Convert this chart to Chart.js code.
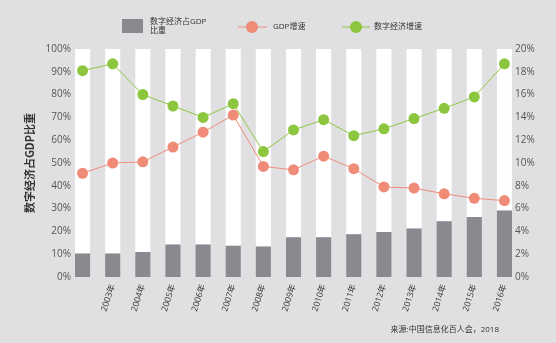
<!DOCTYPE html>
<html><head><meta charset="utf-8">
<script src="https://cdn.jsdelivr.net/npm/chart.js@4/dist/chart.umd.min.js"></script>
<style>
html,body{margin:0;padding:0;background:#e0e0e2;}
#wrap{width:556px;height:343px;position:relative;}
</style></head>
<body><div id="wrap"><canvas id="c" width="556" height="343"></canvas></div>
<script>
const categories = ['', '2003年', '2004年', '2005年', '2006年', '2007年', '2008年', '2009年', '2010年', '2011年', '2012年', '2013年', '2014年', '2015年', '2016年'];
const digitalShare = [10.3, 10.3, 11.0, 14.2, 14.2, 13.7, 13.4, 17.4, 17.4, 18.7, 19.7, 21.3, 24.4, 26.3, 29.2];
const gdpGrowth = [9.1, 10.0, 10.1, 11.4, 12.7, 14.2, 9.7, 9.4, 10.6, 9.5, 7.9, 7.8, 7.3, 6.9, 6.7];
const digitalGrowth = [18.1, 18.7, 16.0, 15.0, 14.0, 15.2, 11.0, 12.9, 13.8, 12.4, 13.0, 13.9, 14.8, 15.8, 18.7];
const leftTicks = [0, 10, 20, 30, 40, 50, 60, 70, 80, 90, 100];
const rightTicks = [0, 2, 4, 6, 8, 10, 12, 14, 16, 18, 20];
const restShare = digitalShare.map(v => 100 - v);

const GRAY = '#898a8f', RED = '#f08b78', GREEN = '#8cc63f';
const FONT = "'Open Sans', 'Noto Sans CJK SC', sans-serif";

const legendPlugin = {
  id: 'customLegend',
  afterDraw(chart) {
    const ctx = chart.ctx;
    ctx.save();
    ctx.fillStyle = GRAY;
    ctx.fillRect(122, 19, 21, 14);
    ctx.fillStyle = '#333';
    ctx.font = "8px " + FONT;
    ctx.textBaseline = 'middle';
    ctx.textAlign = 'left';
    ctx.fillText('数字经济占GDP', 150, 22);
    ctx.fillText('比重', 150, 31);
    const items = [[RED, 238, 267, 252, 273, 'GDP增速'], [GREEN, 342, 370, 356, 374, '数字经济增速']];
    items.forEach(([col, x1, x2, cx, tx, txt]) => {
      ctx.strokeStyle = col; ctx.lineWidth = 1;
      ctx.beginPath(); ctx.moveTo(x1, 27); ctx.lineTo(x2, 27); ctx.stroke();
      ctx.fillStyle = col; ctx.beginPath(); ctx.arc(cx, 27, 6, 0, Math.PI * 2); ctx.fill();
      ctx.fillStyle = '#333'; ctx.fillText(txt, tx, 27);
    });
    ctx.textAlign = 'right';
    ctx.fillStyle = '#333';
    ctx.fillText('来源:中国信息化百人会，2018', 499, 330);
    ctx.restore();
  }
};

const noLabelClip = s => { s._computeLabelArea = () => undefined; };

new Chart(document.getElementById('c'), {
  data: {
    labels: categories,
    datasets: [
      { type: 'line', label: 'GDP增速', data: gdpGrowth, yAxisID: 'y1', borderColor: RED, backgroundColor: RED,
        borderWidth: 1, pointRadius: 5.5, pointBorderWidth: 0, pointBackgroundColor: RED, order: 0, tension: 0 },
      { type: 'line', label: '数字经济增速', data: digitalGrowth, yAxisID: 'y1', borderColor: GREEN, backgroundColor: GREEN,
        borderWidth: 1, pointRadius: 5.5, pointBorderWidth: 0, pointBackgroundColor: GREEN, order: 0, tension: 0 },
      { type: 'bar', label: '数字经济占GDP比重', data: digitalShare, yAxisID: 'y', backgroundColor: GRAY,
        barPercentage: 0.5, categoryPercentage: 1, order: 1, stack: 's' },
      { type: 'bar', label: 'rest', data: restShare, yAxisID: 'y', backgroundColor: '#ffffff',
        barPercentage: 0.5, categoryPercentage: 1, order: 1, stack: 's' }
    ]
  },
  options: {
    responsive: false,
    animation: false,
    layout: { padding: { top: 49, left: 0, right: 0, bottom: 0 } },
    plugins: { legend: { display: false }, tooltip: { enabled: false } },
    scales: {
      x: {
        stacked: true,
        grid: { display: false, drawTicks: false, tickLength: 0 },
        border: { display: false },
        ticks: { autoSkip: false, minRotation: 72, maxRotation: 72, padding: 6, color: '#333', font: { family: FONT, size: 8.5 } },
        afterFit(s) { s.height = 66; },
        afterUpdate: noLabelClip
      },
      y: {
        position: 'left', stacked: true, min: 0, max: 100,
        grid: { display: false, drawTicks: false, tickLength: 0 },
        border: { display: false },
        afterBuildTicks(s) { s.ticks = leftTicks.map(v => ({ value: v })); },
        ticks: { padding: -3.5, color: '#555', font: { family: FONT, size: 10 }, callback: v => v + '%' },
        title: { display: true, text: '数字经济占GDP比重', color: '#333', padding: { top: 23, bottom: 0 },
          font: { family: "'Noto Sans CJK SC', sans-serif", size: 11, weight: 'bold' } },
        afterFit(s) { s.width = 67.5; },
        afterUpdate: noLabelClip
      },
      y1: {
        position: 'right', stacked: false, min: 0, max: 20,
        grid: { display: false, drawTicks: false, tickLength: 0 },
        border: { display: false },
        afterBuildTicks(s) { s.ticks = rightTicks.map(v => ({ value: v })); },
        ticks: { padding: -4.5, color: '#555', font: { family: FONT, size: 10 }, callback: v => v + '%' },
        afterFit(s) { s.width = 36.5; },
        afterUpdate: noLabelClip
      }
    }
  },
  plugins: [legendPlugin]
});
</script></body></html>
